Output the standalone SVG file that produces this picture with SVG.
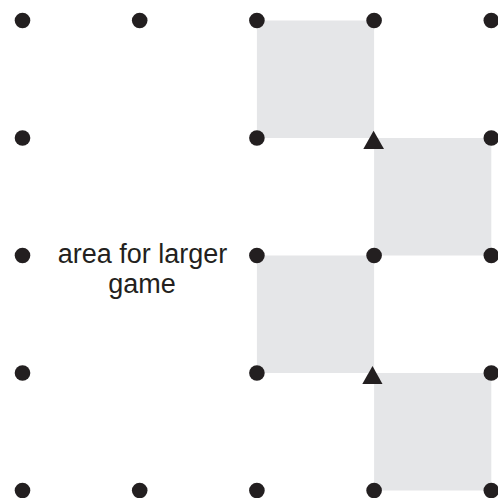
<svg xmlns="http://www.w3.org/2000/svg" width="498" height="498" viewBox="0 0 498 498">
<style>
.sq{fill:#e5e6e8}
.dot{fill:#231f20}
.tri{fill:#231f20}
.lbl{font-family:"Liberation Sans",Arial,sans-serif;font-size:27px;fill:#231f20;text-anchor:middle}
</style>
<rect width="498" height="498" fill="#ffffff"/>
<g id="squares">
<rect class="sq" x="256.9" y="20.5" width="117.2" height="117.5"/>
<rect class="sq" x="374.1" y="138" width="117.2" height="117.5"/>
<rect class="sq" x="256.9" y="255.5" width="117.2" height="117.5"/>
<rect class="sq" x="374.1" y="373" width="117.2" height="117.5"/>
</g>
<g id="connectors"></g>
<g id="dots">
<circle class="dot" cx="22.5" cy="20.5" r="7.8"/>
<circle class="dot" cx="139.7" cy="20.5" r="7.8"/>
<circle class="dot" cx="256.9" cy="20.5" r="7.8"/>
<circle class="dot" cx="374.1" cy="20.5" r="7.8"/>
<circle class="dot" cx="491.3" cy="20.5" r="7.8"/>
<circle class="dot" cx="22.5" cy="138" r="7.8"/>
<circle class="dot" cx="256.9" cy="138" r="7.8"/>
<circle class="dot" cx="491.3" cy="138" r="7.8"/>
<circle class="dot" cx="22.5" cy="255.5" r="7.8"/>
<circle class="dot" cx="256.9" cy="255.5" r="7.8"/>
<circle class="dot" cx="374.1" cy="255.5" r="7.8"/>
<circle class="dot" cx="491.3" cy="255.5" r="7.8"/>
<circle class="dot" cx="22.5" cy="373" r="7.8"/>
<circle class="dot" cx="256.9" cy="373" r="7.8"/>
<circle class="dot" cx="491.3" cy="373" r="7.8"/>
<circle class="dot" cx="22.5" cy="490.5" r="7.8"/>
<circle class="dot" cx="139.7" cy="490.5" r="7.8"/>
<circle class="dot" cx="256.9" cy="490.5" r="7.8"/>
<circle class="dot" cx="374.1" cy="490.5" r="7.8"/>
<circle class="dot" cx="491.3" cy="490.5" r="7.8"/>
</g>
<g id="triangle1"><polygon class="tri" points="373.6,130.7 363.3,149 384,149"/></g>
<g id="triangle2"><polygon class="tri" points="372.5,366 362.3,384 382.5,384"/></g>
<g id="label">
<text class="lbl" x="142.5" y="262.5">area for larger</text>
<text class="lbl" x="142" y="292.5">game</text>
</g>
</svg>
